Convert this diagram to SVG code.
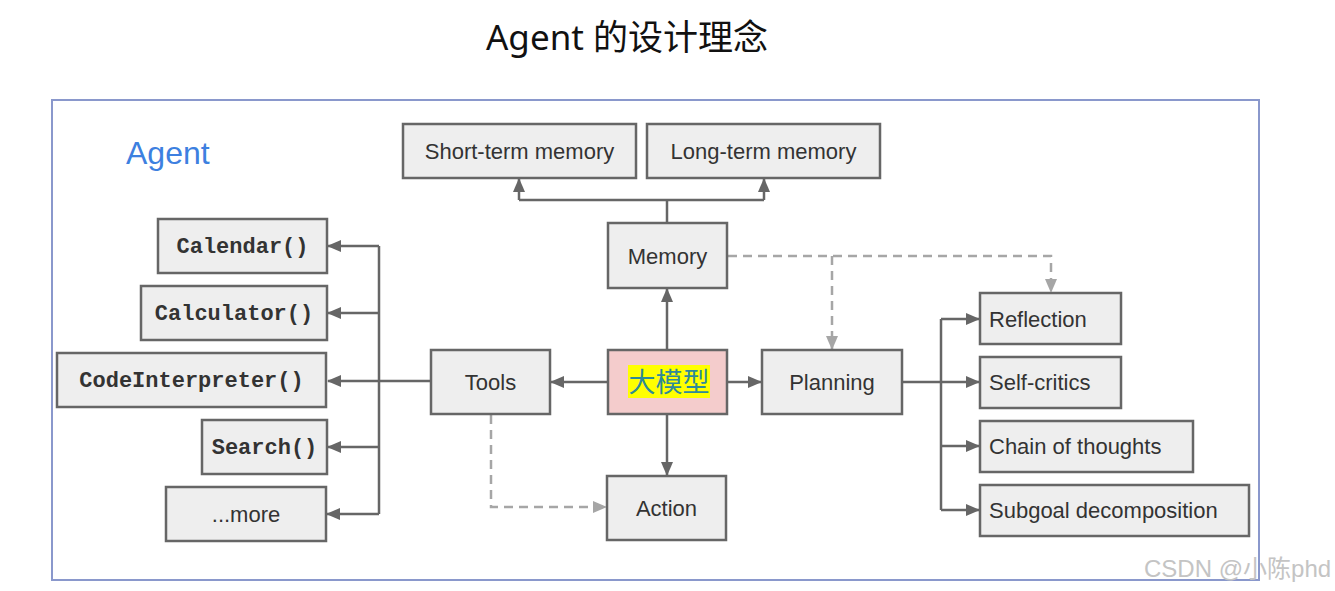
<svg xmlns="http://www.w3.org/2000/svg" width="1335" height="591" viewBox="0 0 1335 591">
<style>
.box{fill:#eeeeee;stroke:#666666;stroke-width:2.5}
.lbl{font-family:"Liberation Sans",Arial,sans-serif;font-size:22px;fill:#333333}
.mono{font-family:"Liberation Mono","Courier New",monospace;font-size:22px;font-weight:bold;fill:#333333}
.solid{fill:none;stroke:#666666;stroke-width:2.5}
.dash{fill:none;stroke:#a6a6a6;stroke-width:2.5;stroke-dasharray:9 6}
</style>
<defs>
<marker id="ah" markerUnits="userSpaceOnUse" markerWidth="14" markerHeight="12" refX="13" refY="6" orient="auto">
<path d="M0,0 L14,6 L0,12 z" fill="#666666"/>
</marker>
<marker id="ahd" markerUnits="userSpaceOnUse" markerWidth="14" markerHeight="12" refX="13" refY="6" orient="auto">
<path d="M0,0 L14,6 L0,12 z" fill="#a6a6a6"/>
</marker>
</defs>
<rect width="1335" height="591" fill="#ffffff"/>
<text x="627" y="50" text-anchor="middle" font-family="'Noto Sans','Noto Sans CJK SC',sans-serif" font-size="35" fill="#111111">Agent 的设计理念</text>
<rect x="52" y="100" width="1207" height="480" fill="#ffffff" stroke="#8a98cc" stroke-width="2"/>
<text x="126" y="164" font-family="'Liberation Sans',Arial,sans-serif" font-size="32" fill="#3d80e0">Agent</text>

<g id="connectors">
<path class="solid" d="M667,223 V200"/>
<path class="solid" d="M519,200 H764"/>
<path class="solid" d="M519,200 V179" marker-end="url(#ah)"/>
<path class="solid" d="M764,200 V179" marker-end="url(#ah)"/>
<path class="solid" d="M667,350 V289" marker-end="url(#ah)"/>
<path class="solid" d="M667,414 V475" marker-end="url(#ah)"/>
<path class="solid" d="M608,382 H551" marker-end="url(#ah)"/>
<path class="solid" d="M727,382 H761" marker-end="url(#ah)"/>
<path class="solid" d="M431,381 H328" marker-end="url(#ah)"/>
<path class="solid" d="M379,246 V514"/>
<path class="solid" d="M379,246 H328" marker-end="url(#ah)"/>
<path class="solid" d="M379,313 H328" marker-end="url(#ah)"/>
<path class="solid" d="M379,447 H328" marker-end="url(#ah)"/>
<path class="solid" d="M379,514 H327" marker-end="url(#ah)"/>
<path class="solid" d="M902,382 H979" marker-end="url(#ah)"/>
<path class="solid" d="M941,319 V510"/>
<path class="solid" d="M941,319 H979" marker-end="url(#ah)"/>
<path class="solid" d="M941,446 H979" marker-end="url(#ah)"/>
<path class="solid" d="M941,510 H979" marker-end="url(#ah)"/>
<path class="dash" d="M728,256 H1051 V292" marker-end="url(#ahd)"/>
<path class="dash" d="M832,256 V349" marker-end="url(#ahd)"/>
<path class="dash" d="M491,415 V507 H606" marker-end="url(#ahd)"/>
</g>

<g id="short-term-memory"><rect class="box" x="403" y="124" width="233" height="54"/><text class="lbl" x="519.5" y="159" text-anchor="middle">Short-term memory</text></g>
<g id="long-term-memory"><rect class="box" x="647" y="124" width="233" height="54"/><text class="lbl" x="763.5" y="159" text-anchor="middle">Long-term memory</text></g>
<g id="memory"><rect class="box" x="608" y="223" width="119" height="65"/><text class="lbl" x="667.5" y="264" text-anchor="middle">Memory</text></g>
<g id="llm"><rect x="608" y="350" width="119" height="64" fill="#f4cccc" stroke="#666666" stroke-width="2.5"/><rect x="628" y="365" width="82" height="33" fill="#ffff00"/><text x="669" y="392" text-anchor="middle" font-family="'Noto Sans CJK SC',sans-serif" font-size="27" fill="#2e8a98">大模型</text></g>
<g id="tools"><rect class="box" x="431" y="350" width="119" height="64"/><text class="lbl" x="490.5" y="390" text-anchor="middle">Tools</text></g>
<g id="planning"><rect class="box" x="762" y="350" width="140" height="64"/><text class="lbl" x="832" y="390" text-anchor="middle">Planning</text></g>
<g id="action"><rect class="box" x="607" y="476" width="119" height="64"/><text class="lbl" x="666.5" y="516" text-anchor="middle">Action</text></g>

<g id="calendar"><rect class="box" x="158" y="219" width="169" height="54"/><text class="mono" x="242.5" y="253" text-anchor="middle">Calendar()</text></g>
<g id="calculator"><rect class="box" x="141" y="286" width="186" height="54"/><text class="mono" x="234" y="320" text-anchor="middle">Calculator()</text></g>
<g id="codeinterpreter"><rect class="box" x="57" y="353" width="269" height="54"/><text class="mono" x="191.5" y="387" text-anchor="middle">CodeInterpreter()</text></g>
<g id="search"><rect class="box" x="202" y="420" width="125" height="54"/><text class="mono" x="264.5" y="454" text-anchor="middle">Search()</text></g>
<g id="more"><rect class="box" x="166" y="487" width="160" height="54"/><text class="lbl" x="246" y="522" text-anchor="middle">...more</text></g>

<g id="reflection"><rect class="box" x="980" y="293" width="141" height="51"/><text class="lbl" x="989" y="327">Reflection</text></g>
<g id="self-critics"><rect class="box" x="980" y="357" width="141" height="51"/><text class="lbl" x="989" y="390">Self-critics</text></g>
<g id="chain-of-thoughts"><rect class="box" x="980" y="421" width="213" height="51"/><text class="lbl" x="989" y="454">Chain of thoughts</text></g>
<g id="subgoal"><rect class="box" x="980" y="485" width="269" height="51"/><text class="lbl" x="989" y="518">Subgoal decomposition</text></g>

<text x="1144" y="577" font-family="'Liberation Sans','Noto Sans CJK SC',sans-serif" font-size="24" fill="#c4c4c4">CSDN @小陈phd</text>
</svg>
